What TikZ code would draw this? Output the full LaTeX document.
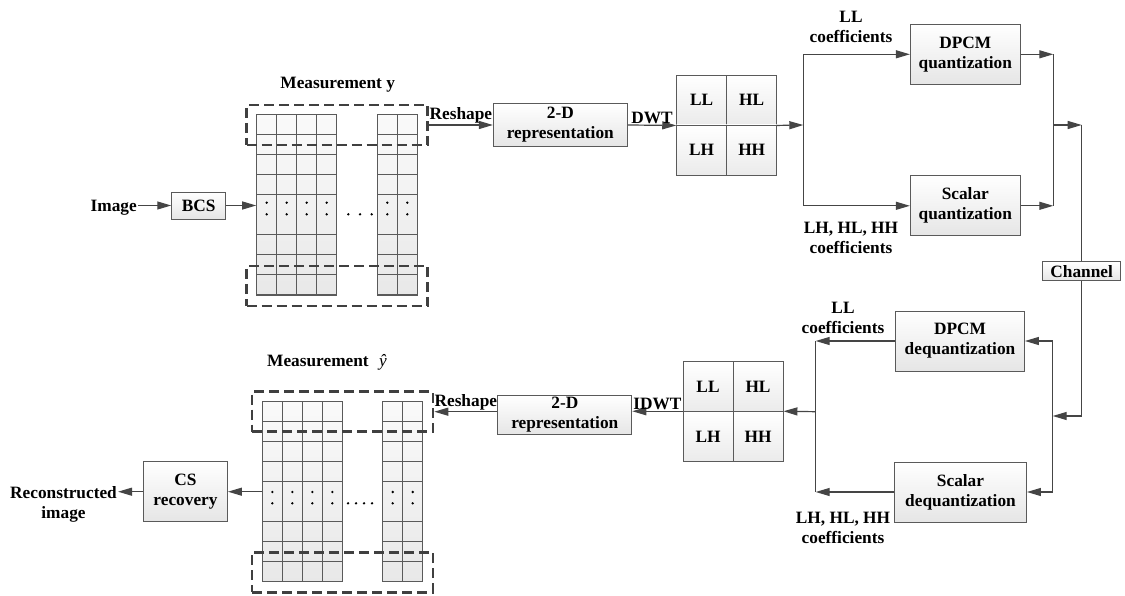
\documentclass[tikz,border=0pt]{standalone}
\usepackage{fontspec}
\setmainfont{Liberation Serif}
\usepackage{tikz}
\usepackage{xcolor}
\usetikzlibrary{
    arrows.meta,
    positioning,
    calc
}
\definecolor{linegray}{HTML}{5A5A5A}
\definecolor{arrowgray}{HTML}{454545}
\definecolor{dashgray}{HTML}{404040}
\tikzset{
    % Processing block style
    block/.style={
        rectangle,
        align=center,
        draw=linegray,
        line width=0.9pt,
        top color=white,
        bottom color=gray!20,
        inner sep=2pt
    },
    % Wavelet sub-band square
    subband/.style={
        rectangle,
        draw=linegray,
        line width=0.9pt,
        top color=white,
        bottom color=gray!16,
        minimum size=50pt
    },
    % Measurement column group
    column group/.style={
        rectangle,
        draw=linegray,
        line width=1pt,
        top color=gray!4,
        bottom color=gray!18,
        minimum height=180pt
    },
    grid line/.style={
        line width=1pt,
        color=linegray
    },
    % Dashed selection box
    dash box/.style={
        rectangle,
        draw=dashgray,
        line width=2.6pt,
        dash pattern=on 10pt off 5pt,
        minimum width=181pt,
        minimum height=40pt
    },
    % Arrow styles
    flow/.style={
        -{Triangle[length=14pt, width=8pt]},
        line width=1.2pt,
        color=arrowgray
    },
    link/.style={
        line width=1.2pt,
        color=arrowgray
    },
    % Label style
    label text/.style={
        align=center,
        text=black,
        inner sep=1pt
    }
}

\begin{document}
\begin{tikzpicture}[x=1pt, y=-1pt, font=\bfseries\fontsize{17.3}{20}\selectfont]
        \useasboundingbox (0,0) rectangle (1125,596);

        % Encoder: input
        \node[label text, anchor=base east] (image) at (138,211.7) {Image};
        \node[block, minimum width=54pt, minimum height=27pt] (bcs) at (198.7,205.5) {BCS};

        % Measurement y
        \node[label text, anchor=base] (mtitle) at (337.7,88.3) {Measurement y};
        \node[column group, minimum width=80pt] (ya) at (296.7,205) {};
        \node[column group, minimum width=40pt] (yb) at (397.3,205) {};
        \foreach \r in {135,155,175,195,235,255,275}
            \draw[grid line] (256.7,\r) -- (336.7,\r) (377.3,\r) -- (417.3,\r);
        \foreach \c in {276.7,296.7,316.7,397.3}
            \draw[grid line] (\c,115) -- (\c,295);
        \foreach \c in {266.7,286.7,306.7,326.7,387.3,407.3}
            \fill (\c,202.7) circle (1.3pt) (\c,214.3) circle (1.3pt);
        \foreach \c in {348.3,360,371.7}
            \fill (\c,214.3) circle (1.3pt);
        \node[dash box] (ytop) at (337.2,125) {};
        \node[dash box] (ybot) at (337.2,286) {};

        % 2-D representation and DWT
        \node[block, minimum width=134pt, minimum height=43pt] (rep1) at (560.3,125) {2-D\\representation};
        \node[subband] (wt1ll) at (701.7,100) {LL};
        \node[subband] (wt1hl) at (751.7,100) {HL};
        \node[subband] (wt1lh) at (701.7,150) {LH};
        \node[subband] (wt1hh) at (751.7,150) {HH};

        % Quantizers
        \node[block, minimum width=110pt, minimum height=60pt] (dpcmq) at (965.3,54.3) {DPCM\\quantization};
        \node[block, minimum width=110pt, minimum height=60pt] (scalq) at (965.3,205.8) {Scalar\\quantization};
        \node[label text] (llq) at (851,27) {LL\\coefficients};
        \node[label text] (hhq) at (851,238) {LH, HL, HH\\coefficients};

        % Channel
        \node[block, minimum width=78pt, minimum height=19pt, inner sep=1pt] (channel) at (1081.7,271.4) {Channel};

        % Dequantizers
        \node[block, minimum width=129pt, minimum height=60pt] (dpcmd) at (960,341) {DPCM\\dequantization};
        \node[block, minimum width=132pt, minimum height=60pt] (scald) at (960.5,492) {Scalar\\dequantization};
        \node[label text] (lld) at (843,318) {LL\\coefficients};
        \node[label text] (hhd) at (843,528) {LH, HL, HH\\coefficients};

        % IDWT and 2-D representation
        \node[subband] (wt2ll) at (708,386.7) {LL};
        \node[subband] (wt2hl) at (758,386.7) {HL};
        \node[subband] (wt2lh) at (708,436.7) {LH};
        \node[subband] (wt2hh) at (758,436.7) {HH};
        \node[block, minimum width=134pt, minimum height=36pt] (rep2) at (564.8,415) {2-D\\representation};

        % Measurement y-hat
        \node[label text, anchor=base west] (mhtitle) at (266,366.7) {Measurement\hspace{0.6em}{\mdseries\itshape ŷ}};
        \node[column group, minimum width=80pt] (yha) at (302.3,491.7) {};
        \node[column group, minimum width=40pt] (yhb) at (402.7,491.7) {};
        \foreach \r in {421.7,441.7,461.7,481.7,521.7,541.7,561.7}
            \draw[grid line] (262.3,\r) -- (342.3,\r) (382.7,\r) -- (422.7,\r);
        \foreach \c in {282.3,302.3,322.3,402.7}
            \draw[grid line] (\c,401.7) -- (\c,581.7);
        \foreach \c in {272.3,292.3,312.3,332.3,392.7,412.7}
            \fill (\c,492) circle (1.3pt) (\c,503.3) circle (1.3pt);
        \foreach \c in {348,356,364,372}
            \fill (\c,503.3) circle (1.3pt);
        \node[dash box] (yhtop) at (342.5,411.7) {};
        \node[dash box] (yhbot) at (342.5,572.2) {};

        % Decoder: output
        \node[block, minimum width=84pt, minimum height=60pt] (cs) at (185.5,491.7) {CS\\recovery};
        \node[label text] (recon) at (63.5,504.5) {Reconstructed\\image};

        % Branch points
        \coordinate (splitq) at (803.3,125);
        \coordinate (joinq) at (1053.3,125);
        \coordinate (chin) at (1081.7,125);
        \coordinate (chout) at (1081.7,416);
        \coordinate (splitd) at (1052.7,416);
        \coordinate (joind) at (815.7,411.7);

        % Encoder flow
        \draw[flow] (image.east |- bcs.west) -- (bcs.west);
        \draw[flow] (bcs.east) -- (bcs.east -| ya.west);
        \draw[flow] (ytop.east) -- node[label text, above] {Reshape} (rep1.west);
        \draw[flow] (rep1.east) -- node[label text, above] {DWT} (wt1ll.south west);
        \draw[flow] (wt1hl.south east) -- (splitq);
        \draw[flow] (splitq) |- (dpcmq.west);
        \draw[flow] (splitq) |- (scalq.west);
        \draw[flow] (dpcmq.east) -- (dpcmq.east -| joinq);
        \draw[flow] (scalq.east) -- (scalq.east -| joinq);
        \draw[link] (dpcmq.east -| joinq) -- (scalq.east -| joinq);
        \draw[flow] (joinq) -- (chin);
        \draw[link] (chin) -- (channel.north);

        % Decoder flow
        \draw[link] (channel.south) -- (chout);
        \draw[flow] (chout) -- (splitd);
        \draw[flow] (splitd) |- (dpcmd.east);
        \draw[flow] (splitd) |- (scald.east);
        \draw[flow] (dpcmd.west) -- (dpcmd.west -| joind);
        \draw[flow] (scald.west) -- (scald.west -| joind);
        \draw[link] (dpcmd.west -| joind) -- (scald.west -| joind);
        \draw[flow] (joind) -- (wt2hh.north east);
        \draw[flow] (wt2lh.north west) -- node[label text, above] {IDWT} (wt2lh.north west -| rep2.east);
        \draw[flow] (rep2.west |- yhtop.east) -- node[label text, above] {Reshape} (yhtop.east);
        \draw[flow] (yha.west) -- (cs.east);
        \draw[flow] (cs.west) -- (cs.west -| recon.east);

    \end{tikzpicture}
\end{document}
